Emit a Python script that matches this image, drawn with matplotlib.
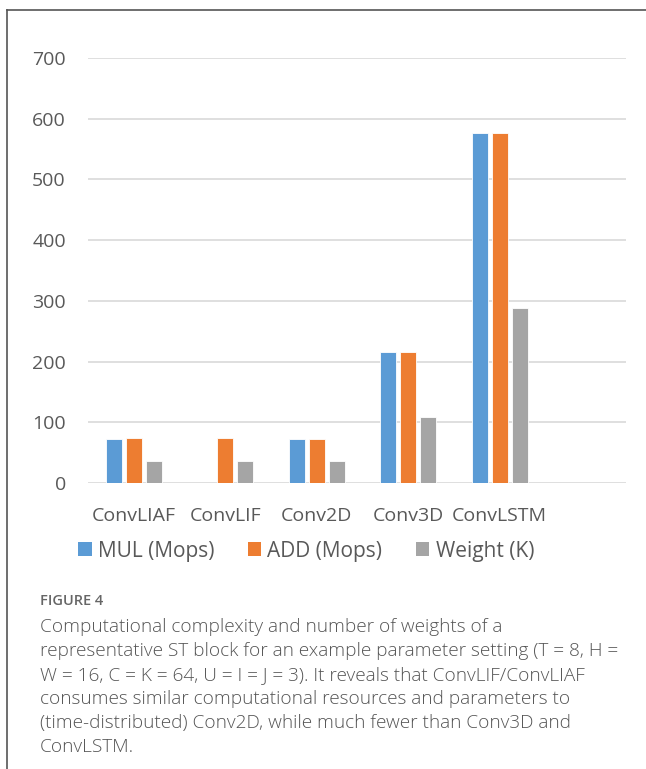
import numpy as np
import matplotlib.pyplot as plt
from matplotlib.patches import Patch
from matplotlib.lines import Line2D

# Computational cost per ST block type
categories = ['ConvLIAF', 'ConvLIF', 'Conv2D', 'Conv3D', 'ConvLSTM']
mul_mops = [72, 0, 72, 216, 576]
add_mops = [73.5, 73.5, 72, 216, 576]
weight_k = [36, 36, 36, 108, 288]
series_names = ['MUL (Mops)', 'ADD (Mops)', 'Weight (K)']
y_ticks = [0, 100, 200, 300, 400, 500, 600, 700]

colors = ['#5B9BD5', '#ED7D31', '#A5A5A5']
label_color = '#595959'
font = 'Open Sans'

W, H = 646, 769
fig = plt.figure(figsize=(W / 100, H / 100), dpi=100)
fig.patch.set_facecolor('white')

# plot area in pixel coordinates
left, right, top, bottom = 88, 626, 58, 483
ax = fig.add_axes([left / W, 1 - bottom / H, (right - left) / W, (bottom - top) / H])

x = np.arange(len(categories))
offset = 0.219
width = 0.175
for i, (vals, c) in enumerate(zip([mul_mops, add_mops, weight_k], colors)):
    ax.bar(x + (i - 1) * offset, vals, width, color=c, edgecolor='white',
           linewidth=0.6, zorder=3)

ax.set_xlim(-0.5, 5.38)
ax.set_ylim(0, 700)
ax.set_yticks(y_ticks)
ax.set_yticklabels([str(t) for t in y_ticks], fontsize=14, color=label_color,
                   family=font)
ax.set_xticks(x)
ax.set_xticklabels(categories, fontsize=14, color=label_color, family=font)
ax.tick_params(axis='y', length=0, pad=16)
ax.tick_params(axis='x', length=0, pad=17)
for s in ax.spines.values():
    s.set_visible(False)
ax.grid(axis='y', color='#D9D9D9', linewidth=1.2, zorder=0)
ax.set_axisbelow(True)

handles = [Patch(facecolor=c, edgecolor='none') for c in colors]
fig.legend(handles, series_names, loc='center', ncol=3,
           bbox_to_anchor=(306 / W, 1 - 551 / H), frameon=False,
           prop={'family': font, 'size': 15}, labelcolor=label_color,
           handlelength=0.65, handleheight=0.65, handletextpad=0.3,
           columnspacing=1.6)

# page frame
fig.add_artist(Line2D([7 / W, 1], [1 - 10 / H, 1 - 10 / H], color='#555555', lw=1.2))
fig.add_artist(Line2D([7 / W, 7 / W], [1 - 10 / H, 0], color='#555555', lw=1.2))

# caption
fig.text(40 / W, 1 - 601 / H, 'FIGURE 4', fontsize=10.5, color='#666666',
         family=font, va='center', fontweight='semibold')
caption = ['Computational complexity and number of weights of a',
           'representative ST block for an example parameter setting (T = 8, H =',
           'W = 16, C = K = 64, U = I = J = 3). It reveals that ConvLIF/ConvLIAF',
           'consumes similar computational resources and parameters to',
           '(time-distributed) Conv2D, while much fewer than Conv3D and',
           'ConvLSTM.']
for k, line in enumerate(caption):
    fig.text(40 / W, 1 - (627 + k * 24.0) / H, line, fontsize=13.7,
             color='#555555', family=font, va='center', fontweight='light')

fig.savefig('out.png', dpi=100)
